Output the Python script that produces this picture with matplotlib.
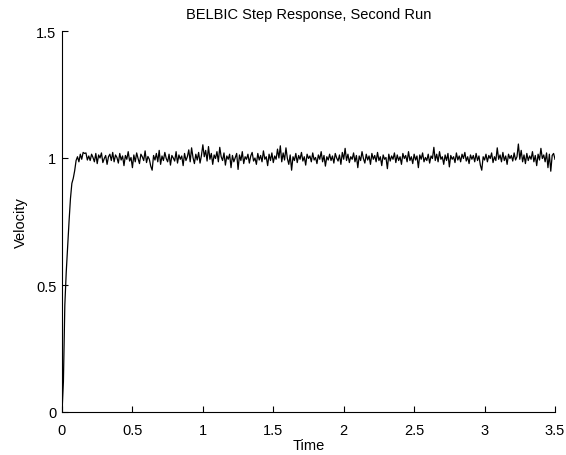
import numpy as np
import matplotlib
matplotlib.use("Agg")
import matplotlib.pyplot as plt

plt.rcParams['font.family'] = ['Liberation Sans', 'DejaVu Sans']

# sample time step of the simulation (s)
dt = 0.01

# initial rise of the velocity after the step command
rise = [0.0, 0.12, 0.42, 0.55, 0.65, 0.75, 0.84, 0.90, 0.92, 0.95, 0.99]

# steady-state velocity samples from t = 0.11 s to t = 3.50 s
steady = [
    1.005, 0.985, 1.015, 0.995, 1.022, 1.018, 1.020, 0.992, 1.008, 0.990,
    1.015, 1.002, 0.985, 1.018, 0.978, 1.012, 1.000, 1.020, 0.982, 0.998,
    1.010, 0.975, 1.005, 1.015, 0.990, 1.022, 0.985, 1.012, 1.002, 0.980,
    1.018, 0.992, 1.008, 0.970, 1.010, 0.995, 1.025, 0.988, 1.002, 0.962,
    1.012, 0.985, 1.020, 0.998, 0.978, 1.015, 1.005, 0.990, 1.028, 0.982,
    1.006, 0.995, 0.968, 0.952, 1.010, 0.992, 1.018, 0.985, 1.030, 0.975,
    1.008, 0.990, 1.022, 0.998, 0.985, 1.015, 0.972, 1.010, 1.000, 0.988,
    1.025, 0.980, 1.012, 0.995, 1.008, 0.970, 1.018, 0.990, 1.005, 1.032,
    0.985, 1.040, 1.002, 0.978, 1.015, 0.992, 1.022, 0.980, 1.010, 1.052,
    1.005, 1.030, 0.988, 1.045, 0.995, 1.018, 0.975, 1.012, 0.998, 1.025,
    0.985, 1.042, 1.005, 0.990, 1.020, 0.972, 1.008, 0.995, 1.015, 0.962,
    1.010, 0.985, 1.002, 1.018, 0.955, 1.012, 0.990, 1.025, 0.978, 1.005,
    0.995, 1.015, 0.980, 1.008, 1.022, 0.988, 1.000, 0.975, 1.018, 0.992,
    1.010, 0.985, 1.028, 0.995, 1.005, 0.970, 1.015, 0.990, 1.020, 0.982,
    1.008, 0.995, 1.035, 1.000, 1.048, 0.985, 1.020, 0.992, 1.040, 0.998,
    0.975, 1.012, 0.952, 1.005, 0.990, 1.018, 0.982, 1.010, 0.995, 1.022,
    0.988, 1.005, 0.972, 1.015, 0.998, 1.008, 0.985, 1.020, 0.992, 1.002,
    0.978, 1.012, 0.995, 1.025, 0.985, 1.010, 0.968, 1.005, 0.992, 1.015,
    0.990, 1.008, 0.980, 1.018, 1.000, 0.988, 1.012, 0.975, 1.022, 0.995,
    1.038, 0.990, 1.015, 0.982, 1.005, 0.995, 1.020, 0.985, 1.010, 0.962,
    1.008, 0.990, 1.025, 0.998, 0.980, 1.015, 0.992, 1.008, 0.975, 1.018,
    0.995, 1.010, 0.985, 1.022, 0.990, 1.005, 0.970, 1.012, 0.995, 1.002,
    0.958, 1.015, 0.988, 1.008, 0.995, 1.020, 0.982, 1.012, 0.990, 1.005,
    0.975, 1.018, 0.998, 1.010, 0.985, 1.025, 0.990, 1.005, 0.978, 1.015,
    0.992, 1.008, 0.962, 1.012, 0.995, 1.020, 0.985, 1.002, 0.990, 1.015,
    0.980, 1.008, 0.998, 1.042, 0.990, 1.015, 0.985, 1.025, 0.995, 1.005,
    0.975, 1.012, 0.990, 1.018, 0.965, 1.010, 0.995, 1.005, 0.982, 1.020,
    0.992, 1.008, 0.985, 1.015, 0.998, 1.022, 0.988, 1.005, 0.978, 1.012,
    0.995, 1.010, 0.985, 1.018, 0.990, 1.008, 0.972, 0.952, 1.005, 0.992,
    1.015, 0.985, 1.010, 0.998, 1.020, 0.982, 1.005, 0.990, 1.040, 0.995,
    1.012, 0.985, 1.022, 0.990, 1.008, 0.975, 1.015, 0.998, 1.010, 0.988,
    1.020, 0.992, 1.005, 1.055, 0.995, 1.030, 0.985, 1.012, 0.978, 1.018,
    0.990, 1.008, 0.995, 1.025, 0.985, 1.010, 0.970, 1.015, 0.992, 1.038,
    0.998, 1.012, 0.985, 1.020, 0.962, 1.015, 0.948, 1.010, 1.018, 0.995,
]

velocity = np.array(rise + steady)
time = np.arange(len(velocity)) * dt

x_ticks = [0, 0.5, 1, 1.5, 2, 2.5, 3, 3.5]
x_tick_labels = ['0', '0.5', '1', '1.5', '2', '2.5', '3', '3.5']
y_ticks = [0, 0.5, 1, 1.5]
y_tick_labels = ['0', '0.5', '1', '1.5']

fig = plt.figure(figsize=(5.66, 4.56), dpi=100)
ax = fig.add_axes([62 / 566, 43 / 456, 493 / 566, 381 / 456])

ax.plot(time, velocity, color='black', linewidth=0.9)

ax.set_xlim(0, 3.5)
ax.set_ylim(0, 1.5)
ax.set_xticks(x_ticks)
ax.set_xticklabels(x_tick_labels)
ax.set_yticks(y_ticks)
ax.set_yticklabels(y_tick_labels)

ax.spines['top'].set_visible(False)
ax.spines['right'].set_visible(False)
ax.spines['left'].set_linewidth(0.8)
ax.spines['bottom'].set_linewidth(0.8)
ax.tick_params(direction='in', length=4, width=0.8, labelsize=10.5)
ax.tick_params(axis='x', pad=8)
ax.tick_params(axis='y', pad=4)

ax.set_title('BELBIC Step Response, Second Run', fontsize=10.5, pad=9)
ax.set_xlabel('Time', fontsize=10.5, labelpad=1)
ax.set_ylabel('Velocity', fontsize=10.5, labelpad=6)

fig.savefig('out.png', dpi=100, facecolor='white')
